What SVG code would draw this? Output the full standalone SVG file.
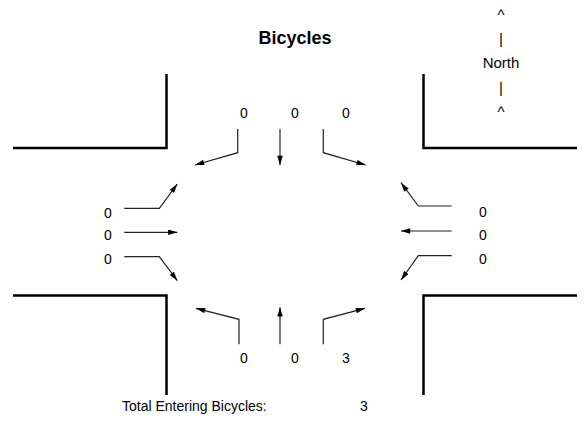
<svg xmlns="http://www.w3.org/2000/svg" width="585" height="422" viewBox="0 0 585 422">
  <style>
    .curb { fill: none; stroke: #000; stroke-width: 2.5; }
    .mv { fill: none; stroke: #222; stroke-width: 1.2; marker-end: url(#head); }
    .lbl { font-family: "Liberation Sans", Arial, sans-serif; font-size: 14px; fill: #000; }
    .mid { text-anchor: middle; }
    .title { font-family: "Liberation Sans", Arial, sans-serif; font-size: 18px; font-weight: bold; text-anchor: middle; }
  </style>
  <defs>
    <marker id="head" viewBox="0 0 10 6" refX="10" refY="3" markerWidth="10" markerHeight="5.5" markerUnits="userSpaceOnUse" orient="auto">
      <path d="M0,0 L10,3 L0,6 Z" fill="#000"/>
    </marker>
  </defs>
  <rect width="585" height="422" fill="#fff"/>

  <!-- street corners -->
  <g id="curbs">
    <path class="curb" d="M13,148 H166.5 V74"/>
    <path class="curb" d="M13,295.5 H166.5 V395"/>
    <path class="curb" d="M577,148 H423.5 V74"/>
    <path class="curb" d="M577,295.5 H423.5 V395"/>
  </g>

  <text id="title" class="title" x="295" y="44">Bicycles</text>

  <g id="north" class="lbl mid" style="font-size:15px; opacity:0.99">
    <text x="501" y="19.5">^</text>
    <text x="501" y="43.5">|</text>
    <text x="501" y="68.3">North</text>
    <text x="501" y="92.5">|</text>
    <text x="501" y="117">^</text>
  </g>

  <!-- movement arrows -->
  <g id="connectors">
    <!-- southbound -->
    <path class="mv" d="M237.7,129 V152.7 L195,165"/>
    <path class="mv" d="M280,129 V165"/>
    <path class="mv" d="M323.3,129 V152.7 L365.7,165"/>
    <!-- eastbound -->
    <path class="mv" d="M124.3,208.3 H159.3 L177.3,184"/>
    <path class="mv" d="M124.3,232.3 H177.3"/>
    <path class="mv" d="M124.3,256.7 H159.3 L177.3,280.7"/>
    <!-- westbound -->
    <path class="mv" d="M451.7,206 H418.3 L401,182.7"/>
    <path class="mv" d="M451.7,231 H401"/>
    <path class="mv" d="M451.7,255.7 H418.3 L401,280"/>
    <!-- northbound -->
    <path class="mv" d="M239,344.3 V319.3 L196,308.3"/>
    <path class="mv" d="M280,344.3 V307.3"/>
    <path class="mv" d="M323.3,344.3 V319.3 L365,308.3"/>
  </g>

  <g id="south-counts" class="lbl mid">
    <text x="244" y="118">0</text>
    <text x="295" y="118">0</text>
    <text x="346" y="118">0</text>
  </g>
  <g id="west-counts" class="lbl mid">
    <text x="108" y="217.5">0</text>
    <text x="108" y="240">0</text>
    <text x="108" y="264">0</text>
  </g>
  <g id="east-counts" class="lbl mid">
    <text x="483" y="217">0</text>
    <text x="483" y="240">0</text>
    <text x="483" y="264">0</text>
  </g>
  <g id="north-counts" class="lbl mid">
    <text x="244" y="363">0</text>
    <text x="295" y="363">0</text>
    <text x="346" y="363">3</text>
  </g>

  <g id="total" class="lbl">
    <text x="122" y="411">Total Entering Bicycles:</text>
    <text x="364" y="411" class="mid">3</text>
  </g>
</svg>
